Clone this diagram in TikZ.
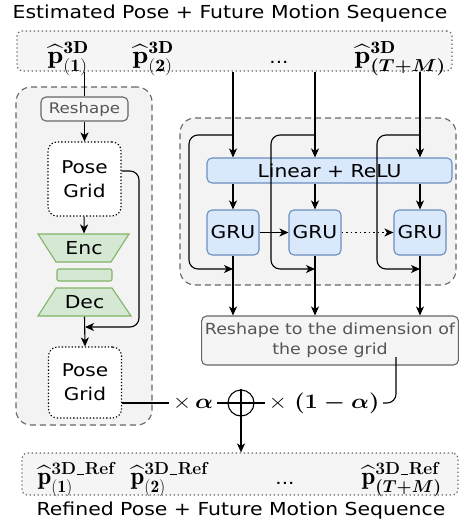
\documentclass[tikz,border=0pt]{standalone}
\usepackage{amsmath}
\usepackage{graphicx}
\usepackage{fontspec}
\newfontfamily\dv{DejaVu Sans}
\usetikzlibrary{arrows.meta,calc}
\DeclareMathSizes{24.88}{24.88}{17.4}{12.4}
\definecolor{seqfill}{HTML}{F5F5F5}
\definecolor{grpfill}{HTML}{F3F3F3}
\definecolor{graydraw}{HTML}{666666}
\definecolor{graytext}{HTML}{555555}
\definecolor{gfill}{HTML}{D5E8D4}
\definecolor{gdraw}{HTML}{82B366}
\definecolor{bfill}{HTML}{DAE8FC}
\definecolor{bdraw}{HTML}{6C8EBF}
\newcommand{\hs}[1]{\scalebox{1.14}[1]{#1}}
\newcommand{\refsup}{\text{\normalfont\bfseries 3D\kern0.04em\rule{0.42em}{0.07em}\kern0.04em Ref}}
\tikzset{
  txt/.style={font=\dv\fontsize{17.9}{24}\selectfont, inner sep=0pt},
  arr/.style={-{Stealth[length=9pt,width=8pt,inset=2.5pt]}},
  grpbox/.style={draw=graydraw, fill=grpfill, dash pattern=on 6pt off 4pt, rounded corners=15pt, line width=1.1pt},
  seqbox/.style={draw=graydraw, fill=seqfill, dash pattern=on 1.3pt off 2.7pt, rounded corners=5pt, line width=1.2pt},
  graybox/.style={draw=graydraw, fill=seqfill, rounded corners=5pt, text=graytext, line width=1.1pt, align=center},
  gridbox/.style={draw=black, fill=white, dash pattern=on 1.3pt off 2pt, rounded corners=9pt, line width=1.1pt, align=center, font=\dv\fontsize{17.6}{24}\selectfont, minimum width=73pt},
  greenshape/.style={draw=gdraw, fill=gfill, line width=1.1pt},
  bluebox/.style={draw=bdraw, fill=bfill, rounded corners=5pt, line width=1.1pt, font=\dv\fontsize{17.8}{24}\selectfont},
  mathlab/.style={inner sep=0pt, font=\fontsize{24.88}{30}\selectfont},
  dotslab/.style={inner sep=0pt, font=\dv\fontsize{17.5}{24}\selectfont},
  mathop/.style={inner sep=3pt, font=\fontsize{21.5}{26}\selectfont},
}
\begin{document}
\begin{tikzpicture}[x=1pt, y=-1pt, line width=1.1pt]
\useasboundingbox (0,0) rectangle (460,525);

% group boxes
\node[grpbox, minimum width=136pt, minimum height=338pt] (leftgrp) at (84,256) {};
\node[grpbox, minimum width=276pt, minimum height=167pt] (rightgrp) at (318,201.5) {};

% titles
\node[txt] (title) at (230,14) {\hs{Estimated Pose + Future Motion Sequence}};
\node[txt] (btitle) at (241,511) {\hs{Refined Pose + Future Motion Sequence}};

% input sequence
\node[seqbox, minimum width=435pt, minimum height=40pt] (topbox) at (234.5,51) {};
\node[mathlab, anchor=base west] (in1) at (47,63) {\hs{$\widehat{\mathbf{p}}^{\mathbf{3D}}_{\mathbf{(1)}}$}};
\node[mathlab, anchor=base west] (in2) at (132,63) {\hs{$\widehat{\mathbf{p}}^{\mathbf{3D}}_{\mathbf{(2)}}$}};
\node[dotslab, anchor=base] (indots) at (279,63) {\hs{...}};
\node[mathlab, anchor=base west] (in3) at (354,63) {\hs{$\widehat{\mathbf{p}}^{\mathbf{3D}}_{\boldsymbol{(T+M)}}$}};

% output sequence
\node[seqbox, minimum width=436pt, minimum height=42pt] (botbox) at (240,474) {};
\node[mathlab, anchor=base west] (out1) at (37,484) {$\widehat{\mathbf{p}}^{\refsup}_{\mathbf{(1)}}$};
\node[mathlab, anchor=base west] (out2) at (130,484) {$\widehat{\mathbf{p}}^{\refsup}_{\mathbf{(2)}}$};
\node[dotslab, anchor=base] (outdots) at (285,484) {\hs{...}};
\node[mathlab, anchor=base west] (out3) at (361,484) {$\widehat{\mathbf{p}}^{\refsup}_{\boldsymbol{(T+M)}}$};

% left branch
\node[graybox, minimum width=87pt, minimum height=24pt, inner sep=0pt, font=\dv\fontsize{14.6}{19}\selectfont] (rs1) at (84.5,109) {\hs{Reshape}};
\node[gridbox, minimum height=74pt] (pg1) at (84.5,179) {\hs{Pose}\\\hs{Grid}};
\draw[greenshape] (38,234) -- (129,234) -- (111,262) -- (56,262) -- cycle;
\node[txt, minimum width=55pt, minimum height=28pt] (enc) at (84,248) {\hs{Enc}};
\node[greenshape, rounded corners=2pt, minimum width=55pt, minimum height=12pt, inner sep=0pt] (mid) at (84.5,275) {};
\draw[greenshape] (56,288) -- (112,288) -- (131,316) -- (38,316) -- cycle;
\node[txt, minimum width=55pt, minimum height=28pt] (dec) at (84.5,302) {\hs{Dec}};
\node[gridbox, minimum height=71pt] (pg2) at (85,382.5) {\hs{Pose}\\\hs{Grid}};

\draw (topbox.south -| rs1) -- (rs1.north);
\draw[arr] (rs1) -- (pg1);
\draw[arr] (pg1) -- (enc.north);
\draw[arr] (dec.south) -- (pg2.north);
\coordinate (jl) at (85,327);
\draw[arr, rounded corners=9pt] (pg1.east |- 0,171) -| (139,327) -- (jl);

% right branch
\node[bluebox, minimum width=245pt, minimum height=25pt] (lin) at (329.5,170.5) {\hs{Linear + ReLU}};
\node[bluebox, minimum width=52pt, minimum height=45pt, inner sep=0pt] (gru1) at (233,232.5) {\hs{GRU}};
\node[bluebox, minimum width=52pt, minimum height=45pt, inner sep=0pt] (gru2) at (315,232.5) {\hs{GRU}};
\node[bluebox, minimum width=52pt, minimum height=45pt, inner sep=0pt] (gru3) at (420,232.5) {\hs{GRU}};
\node[graybox, minimum width=256pt, minimum height=49pt, font=\dv\fontsize{15.3}{20}\selectfont] (rs2) at (330,340.5) {\hs{Reshape to the dimension of}\\\hs{the pose grid}};

\foreach \g in {gru1,gru2,gru3}{
  \draw[arr] (topbox.south -| \g) -- (lin.north -| \g);
  \draw[arr] (lin.south -| \g) -- (\g);
  \draw[arr] (\g) -- (rs2.north -| \g);
}
\coordinate (a1) at (gru1 |- 0,135);
\coordinate (b1) at (gru1 |- 0,269);
\coordinate (a2) at (gru2 |- 0,135);
\coordinate (b2) at (gru2 |- 0,269);
\coordinate (a3) at (gru3 |- 0,135);
\coordinate (b3) at (gru3 |- 0,269);
\draw[arr, rounded corners=9pt] (a1) -| (189,269) -- (b1);
\draw[arr, rounded corners=9pt] (a2) -| (271,269) -- (b2);
\draw[arr, rounded corners=9pt] (a3) -| (377,269) -- (b3);
\draw[arr] (gru1) -- (gru2);
\draw[arr, dash pattern=on 1.5pt off 3pt] (gru2) -- (gru3);

% fusion
\node[circle, draw, minimum size=26pt, inner sep=0pt] (plus) at (241,403) {};
\draw (plus.north) -- (plus.south) (plus.west) -- (plus.east);
\node[mathop] (al) at (193,403) {\hs{$\times\,\boldsymbol{\alpha}$}};
\node[mathop] (oma) at (324,403) {\hs{$\times\ \boldsymbol{(1-\alpha)}$}};
\draw (pg2.east |- plus) -- (al);
\draw (al) -- (plus);
\draw (plus) -- (oma);
\coordinate (rsout) at (396,357);
\draw[rounded corners=9pt] (oma.east) -| (rsout);
\draw[arr] (plus) -- (plus |- botbox.north);
\end{tikzpicture}
\end{document}
